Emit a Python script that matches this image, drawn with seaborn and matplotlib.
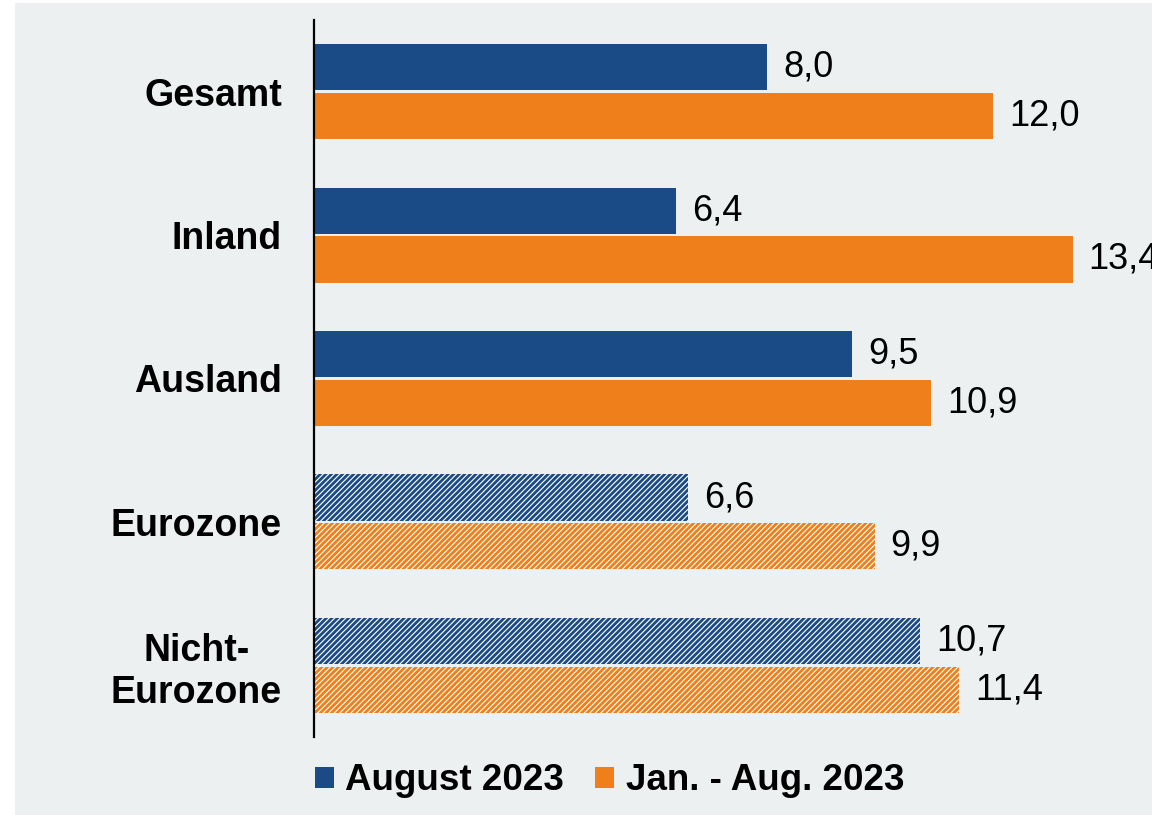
import seaborn as sns
import matplotlib.pyplot as plt
import pandas as pd
from matplotlib.patches import Rectangle, Patch

# Data
categories = ['Gesamt', 'Inland', 'Ausland', 'Eurozone', 'Nicht-\nEurozone']
series_names = ['August 2023', 'Jan. - Aug. 2023']
aug_2023 = [8.0, 6.4, 9.5, 6.6, 10.7]
jan_aug_2023 = [12.0, 13.4, 10.9, 9.9, 11.4]
hatched_categories = ['Eurozone', 'Nicht-\nEurozone']

blue = '#1B4B86'
orange = '#EF7F1A'
bg = '#ECF0F1'

df = pd.DataFrame({
    'Kategorie': categories * 2,
    'Wert': aug_2023 + jan_aug_2023,
    'Zeitraum': [series_names[0]] * len(categories) + [series_names[1]] * len(categories),
})

sns.set_theme(style='white')
plt.rcParams['font.family'] = ['Liberation Sans', 'DejaVu Sans']
plt.rcParams['text.color'] = 'black'
plt.rcParams['ytick.color'] = 'black'
plt.rcParams['hatch.linewidth'] = 2.0

fig = plt.figure(figsize=(11.52, 8.15), dpi=100, facecolor='white')
# grey panel behind everything
fig.patches.append(Rectangle((15 / 1152, 0), 1, 1 - 3 / 815, transform=fig.transFigure,
                             facecolor=bg, edgecolor='none', zorder=-10))

ax = fig.add_axes([314 / 1152, 78 / 815, 1 - 314 / 1152, (737 - 20) / 815])
ax.set_facecolor('none')

sns.barplot(data=df, y='Kategorie', x='Wert', hue='Zeitraum', orient='h',
            palette=[blue, orange], saturation=1, width=0.68, gap=0.05, linewidth=0,
            legend=False, ax=ax)

# hatched bars for Eurozone / Nicht-Eurozone, value labels
for container, color in zip(ax.containers, [blue, orange]):
    for cat, bar in zip(categories, container):
        if cat in hatched_categories:
            bar.set_facecolor('white')
            bar.set_edgecolor(color)
            bar.set_hatch('//////')
            bar.set_linewidth(0)
    ax.bar_label(container, labels=[f'{v:.1f}'.replace('.', ',') for v in container.datavalues],
                 padding=11.5, fontsize=26, color='black', clip_on=False)

ax.set_xlim(0, 14.8)
ax.set_ylim(4.5, -0.5)
ax.set_xlabel('')
ax.set_ylabel('')
ax.set_xticks([])
ax.tick_params(axis='y', length=0, pad=23, labelsize=27, labelcolor='black')
for lab in ax.get_yticklabels():
    lab.set_fontweight('bold')
    lab.set_multialignment('center')
for s in ['top', 'right', 'bottom']:
    ax.spines[s].set_visible(False)
ax.spines['left'].set_color('black')
ax.spines['left'].set_linewidth(1.6)

handles = [Patch(facecolor=blue, edgecolor='none'), Patch(facecolor=orange, edgecolor='none')]
fig.legend(handles, series_names, loc='center left', bbox_to_anchor=(315 / 1152, 1 - 781 / 815),
           ncol=2, frameon=False, prop={'weight': 'bold', 'size': 26.5},
           handlelength=0.52, handleheight=0.52, handletextpad=0.3, columnspacing=0.85,
           borderpad=0, borderaxespad=0)

fig.savefig('out.png', dpi=100, facecolor='white')
